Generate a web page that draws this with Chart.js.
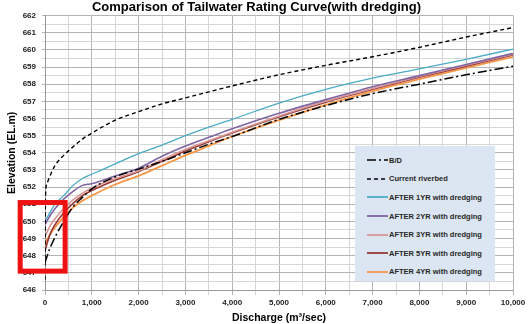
<!DOCTYPE html>
<html>
<head>
<meta charset="utf-8">
<script src="https://cdn.jsdelivr.net/npm/chart.js@4"></script>
<style>
  html, body { margin: 0; padding: 0; background: #fff; }
  #wrap { position: relative; width: 530px; height: 324px; }
  #legendBox {
    position: absolute; left: 355px; top: 146px; width: 140px; height: 135px;
    background: #dce6f2; box-sizing: border-box; padding-top: 5px;
    font-family: 'Liberation Sans', Arial, sans-serif; font-weight: bold;
    font-size: 7.5px; color: #262626;
  }
  #legendBox .row { display: flex; align-items: center; height: 18.6px; padding-left: 12px; }
  #legendBox svg { width: 21px; height: 6px; margin-right: 1px; }
</style>
</head>
<body>
<div id="wrap">
  <canvas id="ratingChart" width="530" height="324"></canvas>
  <div id="legendBox"></div>
</div>
<script>
// discharge (m3/sec) shared by most curves
const discharge = [0, 100, 200, 400, 600, 800, 1000, 1500, 2000, 2500, 3000, 3500, 4000, 5000, 6000, 7000, 8000, 9000, 10000];
const riverbedQ = [0, 10, 40, 100, 200, 400, 600, 800, 1000, 1500, 2000, 2500, 3000, 3500, 4000, 5000, 6000, 7000, 8000, 9000, 10000];

const bdLevel       = [647.6, 648.4, 649.0, 650.0, 650.85, 651.4, 651.9, 652.6, 653.05, 653.5, 654.0, 654.5, 654.95, 655.95, 656.75, 657.45, 658.0, 658.55, 659.05];
const riverbedLevel = [646.6, 651.4, 652.2, 652.6, 653.2, 653.85, 654.35, 654.8, 655.15, 655.9, 656.4, 656.85, 657.2, 657.55, 657.9, 658.55, 659.1, 659.6, 660.15, 660.75, 661.3];
const after1yr = [650.0, 650.5, 650.95, 651.5, 652.1, 652.5, 652.75, 653.35, 653.95, 654.45, 655.0, 655.5, 655.95, 656.9, 657.7, 658.35, 658.9, 659.45, 660.05];
const after2yr = [649.8, 650.3, 650.7, 651.3, 651.75, 652.1, 652.2, 652.65, 653.1, 653.8, 654.4, 654.9, 655.4, 656.3, 657.1, 657.85, 658.5, 659.15, 659.8];
const after3yr = [649.1, 649.7, 650.1, 650.75, 651.25, 651.65, 651.95, 652.5, 652.95, 653.6, 654.2, 654.7, 655.2, 656.15, 657.0, 657.75, 658.45, 659.1, 659.75];
const after5yr = [648.3, 649.2, 649.75, 650.5, 651.05, 651.5, 651.8, 652.4, 652.9, 653.5, 654.1, 654.65, 655.15, 656.1, 656.95, 657.7, 658.4, 659.05, 659.7];
const after4yr = [648.7, 649.2, 649.6, 650.25, 650.8, 651.2, 651.5, 652.15, 652.65, 653.25, 653.85, 654.4, 654.95, 655.9, 656.8, 657.6, 658.3, 658.95, 659.6];

const seriesNames = ['B/D', 'Current riverbed', 'AFTER 1YR with dredging', 'AFTER 2YR with dredging',
    'AFTER 3YR with dredging', 'AFTER 5YR with dredging', 'AFTER 4YR with dredging'];

function pts(qs, levels) {
    return qs.map(function (q, i) { return { x: q, y: levels[i] }; });
}

const styles = [
    { color: '#000000', width: 1.5, dash: [9, 3, 2, 3] },
    { color: '#000000', width: 1.4, dash: [4, 3] },
    { color: '#4bacc6', width: 1.3, dash: [] },
    { color: '#8064a2', width: 1.6, dash: [] },
    { color: '#d99694', width: 1.6, dash: [] },
    { color: '#953735', width: 1.6, dash: [] },
    { color: '#f79646', width: 1.8, dash: [] }
];

const seriesData = [
    pts(discharge, bdLevel),
    pts(riverbedQ, riverbedLevel),
    pts(discharge, after1yr),
    pts(discharge, after2yr),
    pts(discharge, after3yr),
    pts(discharge, after5yr),
    pts(discharge, after4yr)
];

const datasets = seriesNames.map(function (name, i) {
    return {
        label: name,
        data: seriesData[i],
        borderColor: styles[i].color,
        borderWidth: styles[i].width,
        borderDash: styles[i].dash,
        pointRadius: 0,
        fill: false,
        cubicInterpolationMode: 'monotone'
    };
});

// red highlight box drawn over the low-flow region
const highlightBox = {
    id: 'highlightBox',
    afterDatasetsDraw(chart) {
        const { ctx, scales: { x, y } } = chart;
        const x1 = x.getPixelForValue(-530), x2 = x.getPixelForValue(430);
        const y1 = y.getPixelForValue(651.1), y2 = y.getPixelForValue(647.1);
        ctx.save();
        ctx.strokeStyle = '#ee1111';
        ctx.lineWidth = 5;
        ctx.strokeRect(x1, y1, x2 - x1, y2 - y1);
        ctx.restore();
    }
};

const tickFont = { family: "'Liberation Sans', Arial, sans-serif", size: 8, weight: 'bold' };

new Chart(document.getElementById('ratingChart'), {
    type: 'line',
    data: { datasets: datasets },
    options: {
        responsive: false,
        animation: false,
        layout: { padding: { left: 0, right: 17, top: 0, bottom: 0 } },
        plugins: {
            legend: { display: false },
            tooltip: { enabled: false },
            title: {
                display: true,
                text: 'Comparison of Tailwater Rating Curve(with dredging)',
                color: '#000',
                font: { family: "'Liberation Sans', Arial, sans-serif", size: 13, weight: 'bold' },
                padding: { top: 0, bottom: 0 }
            }
        },
        scales: {
            x: {
                type: 'linear',
                min: 0, max: 10000,
                afterFit: function (s) { s.height = 34; },
                ticks: {
                    stepSize: 500,
                    autoSkip: false,
                    maxRotation: 0,
                    padding: 3,
                    color: '#222',
                    font: tickFont,
                    callback: function (v) { return v % 1000 === 0 ? v.toLocaleString('en-US') : ''; }
                },
                grid: {
                    color: function (c) { return c.tick && c.tick.value % 1000 === 0 ? '#b4b4b4' : '#d6d6d6'; },
                    tickLength: 5
                },
                border: { color: '#9a9a9a' },
                title: {
                    display: true,
                    text: 'Discharge (m³/sec)',
                    color: '#000',
                    font: { family: "'Liberation Sans', Arial, sans-serif", size: 10.5, weight: 'bold' },
                    padding: { top: 0, bottom: 0 }
                }
            },
            y: {
                min: 646, max: 662,
                afterFit: function (s) { s.width = 45; },
                ticks: {
                    stepSize: 0.5,
                    autoSkip: false,
                    padding: 6,
                    color: '#222',
                    font: tickFont,
                    callback: function (v) { return Number.isInteger(v) ? String(v) : ''; }
                },
                grid: {
                    color: function (c) { return c.tick && Number.isInteger(c.tick.value) ? '#b4b4b4' : '#d6d6d6'; },
                    tickLength: 3
                },
                border: { color: '#9a9a9a' },
                title: {
                    display: true,
                    text: 'Elevation (EL.m)',
                    color: '#000',
                    font: { family: "'Liberation Sans', Arial, sans-serif", size: 10.5, weight: 'bold' },
                    padding: { top: 6, bottom: 0 }
                }
            }
        }
    },
    plugins: [highlightBox]
});

// legend box built from the same series names and styles
const box = document.getElementById('legendBox');
seriesNames.forEach(function (name, i) {
    const st = styles[i];
    const row = document.createElement('div');
    row.className = 'row';
    row.innerHTML = '<svg viewBox="0 0 21 6"><line x1="0" y1="3" x2="21" y2="3" stroke="' + st.color +
        '" stroke-width="' + (i < 2 ? 1.6 : 1.8) + '" stroke-dasharray="' + (st.dash.length ? st.dash.join(' ') : 'none') +
        '"/></svg><span>' + name + '</span>';
    box.appendChild(row);
});
</script>
</body>
</html>
